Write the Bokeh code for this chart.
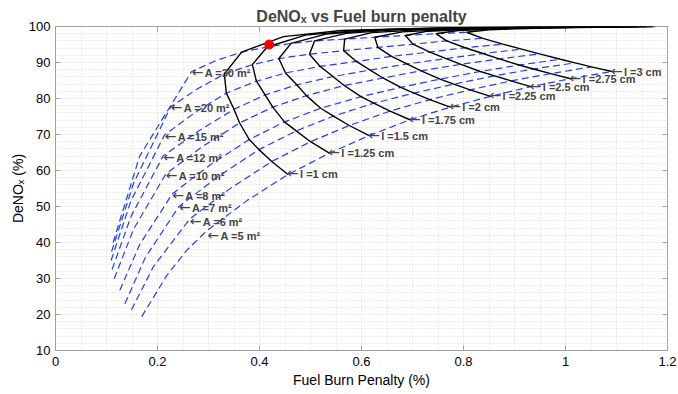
from bokeh.plotting import figure
from bokeh.models import Range1d, Label, FixedTicker
from bokeh.embed import file_html
from bokeh.resources import INLINE

FONT = "Liberation Sans"

x_ticks = [0, 0.2, 0.4, 0.6, 0.8, 1, 1.2]
y_ticks = [10, 20, 30, 40, 50, 60, 70, 80, 90, 100]

# catalyst area values (m2) and thickness values (cm)
A_vals = [5, 6, 7, 8, 10, 12, 15, 20, 30]
l_vals = [1, 1.25, 1.5, 1.75, 2, 2.25, 2.5, 2.75, 3]

# grid of (fuel burn penalty, DeNOx) at each thickness (rows) and area (columns)
grid_x = [
    [0.456, 0.424, 0.399, 0.380, 0.361, 0.350, 0.335, 0.331, 0.365],
    [0.537, 0.500, 0.472, 0.449, 0.426, 0.411, 0.394, 0.386, 0.415],
    [0.615, 0.576, 0.545, 0.520, 0.492, 0.473, 0.451, 0.438, 0.462],
    [0.695, 0.656, 0.624, 0.599, 0.566, 0.544, 0.519, 0.498, 0.508],
    [0.774, 0.734, 0.703, 0.677, 0.642, 0.617, 0.590, 0.565, 0.567],
    [0.853, 0.813, 0.781, 0.754, 0.717, 0.689, 0.659, 0.632, 0.626],
    [0.932, 0.893, 0.861, 0.833, 0.795, 0.766, 0.734, 0.701, 0.686],
    [1.010, 0.971, 0.937, 0.909, 0.870, 0.838, 0.803, 0.767, 0.746],
    [1.091, 1.051, 1.019, 0.990, 0.949, 0.914, 0.877, 0.838, 0.806],
]
grid_y = [
    [58.9, 62.5, 65.8, 68.6, 73.2, 77.0, 81.5, 86.8, 92.9],
    [64.8, 68.0, 71.0, 73.5, 77.6, 81.0, 84.8, 89.4, 94.3],
    [69.7, 72.5, 75.1, 77.3, 80.8, 83.8, 87.1, 91.1, 95.3],
    [74.1, 76.5, 78.7, 80.5, 83.6, 86.1, 88.9, 92.3, 96.0],
    [77.6, 79.7, 81.5, 83.1, 85.7, 87.9, 90.3, 93.3, 96.5],
    [80.6, 82.4, 84.0, 85.4, 87.7, 89.6, 91.7, 94.2, 97.0],
    [83.3, 84.9, 86.3, 87.5, 89.5, 91.1, 92.9, 95.1, 97.5],
    [85.5, 86.9, 88.2, 89.3, 91.0, 92.5, 94.1, 96.0, 98.0],
    [87.5, 88.8, 89.9, 90.9, 92.4, 93.7, 95.1, 96.7, 98.4],
]
# thickness curves beyond A = 30 m2 (towards very large areas)
ext_x = [
    [0.447, 0.56, 0.75, 0.95],
    [0.49, 0.60, 0.79, 1.00],
    [0.53, 0.64, 0.83, 1.04],
    [0.57, 0.68, 0.87, 1.08],
    [0.62, 0.73, 0.92, 1.11],
    [0.68, 0.79, 0.97, 1.14],
    [0.73, 0.84, 1.01, 1.16],
    [0.79, 0.90, 1.05, 1.17],
    [0.85, 0.96, 1.09, 1.175],
]
ext_y = [
    [97.2, 98.9, 99.6, 99.9],
    [97.6, 99.0, 99.65, 99.9],
    [97.9, 99.1, 99.7, 99.9],
    [98.1, 99.2, 99.7, 99.92],
    [98.3, 99.25, 99.75, 99.93],
    [98.5, 99.3, 99.78, 99.95],
    [98.7, 99.4, 99.8, 99.96],
    [98.9, 99.5, 99.85, 99.97],
    [99.1, 99.6, 99.88, 99.98],
]
# area curves below l = 1 cm (thin catalysts)
low_x = [
    [0.169, 0.218, 0.257, 0.297, 0.376],
    [0.149, 0.192, 0.263, 0.3435],
    [0.136, 0.176, 0.242, 0.3205],
    [0.126, 0.165, 0.229, 0.3045],
    [0.115, 0.153, 0.216, 0.2885],
    [0.111, 0.1485, 0.211, 0.2805],
    [0.109, 0.148, 0.214, 0.2745],
    [0.110, 0.1535, 0.226, 0.2785],
    [0.113, 0.165, 0.267, 0.316],
]
low_y = [
    [19.4, 30.8, 37.8, 43.3, 51.7],
    [21.3, 33.3, 46.5, 55.1],
    [23.0, 35.8, 50.0, 58.5],
    [26.7, 39.4, 53.5, 61.7],
    [29.9, 43.7, 59.0, 66.7],
    [32.5, 47.4, 64.0, 71.0],
    [35.0, 51.6, 69.9, 76.2],
    [37.5, 56.6, 77.7, 82.7],
    [40.0, 64.0, 87.5, 90.6],
]

l_label_text = ["l =1 cm", "l =1.25 cm", "l =1.5 cm", "l =1.75 cm", "l =2 cm",
                "l =2.25 cm", "l =2.5 cm", "l =2.75 cm", "l =3 cm"]
l_label_x = [0.456, 0.537, 0.615, 0.695, 0.774, 0.853, 0.932, 1.010, 1.091]
l_label_y = [58.9, 64.8, 69.7, 74.1, 77.6, 80.6, 83.3, 85.5, 87.5]

a_label_text = ["A =5 m²", "A =6 m²", "A =7 m²", "A =8 m²", "A =10 m²",
                "A =12 m²", "A =15 m²", "A =20 m²", "A =30 m²"]
a_label_x = [0.300, 0.265, 0.244, 0.231, 0.218, 0.213, 0.216, 0.228, 0.269]
a_label_y = [41.9, 45.8, 49.5, 52.9, 58.4, 63.5, 69.4, 77.3, 87.1]

best_x = [0.419]
best_y = [95.0]

p = figure(frame_width=612, frame_height=324,
           x_range=Range1d(0, 1.2), y_range=Range1d(10, 100),
           output_backend="svg", toolbar_location=None,
           min_border_left=55, min_border_right=10, min_border_top=26, min_border_bottom=42)
p.outline_line_color = "#a0a0a0"
p.background_fill_color = "white"
p.border_fill_color = "white"

p.title.text = "DeNO\u2093 vs Fuel burn penalty"
p.title.align = "center"
p.title.text_font = FONT
p.title.text_font_size = "16px"
p.title.text_font_style = "bold"
p.title.standoff = 4
p.title.offset = 0

for ax, ticks in ((p.xaxis[0], x_ticks), (p.yaxis[0], y_ticks)):
    ax.ticker = FixedTicker(ticks=ticks)
    ax.axis_line_color = "#a0a0a0"
    ax.major_tick_line_color = "#a0a0a0"
    ax.major_tick_in = 5
    ax.major_tick_out = 0
    ax.minor_tick_line_color = None
    ax.major_label_text_font = FONT
    ax.major_label_text_font_size = "13px"
    ax.major_label_text_color = "black"
    ax.axis_label_text_font = FONT
    ax.axis_label_text_font_size = "14px"
    ax.axis_label_text_font_style = "normal"
    ax.axis_label_text_color = "black"
p.xaxis[0].major_label_overrides = {0: "0", 1: "1"}
p.xaxis[0].major_label_standoff = 6
p.yaxis[0].major_label_standoff = 5
p.xaxis[0].axis_label = "Fuel Burn Penalty (%)"
p.xaxis[0].axis_label_standoff = 3
p.yaxis[0].axis_label = "DeNO\u2093 (%)"
p.yaxis[0].axis_label_standoff = 0

# inward tick marks on the right and top edges of the box
tick_dx = 0.0098
tick_dy = 1.39
p.segment(x0=[1.2] * len(y_ticks), y0=y_ticks, x1=[1.2 - tick_dx] * len(y_ticks), y1=y_ticks,
          line_color="#a0a0a0", line_width=1)
p.segment(x0=x_ticks, y0=[100] * len(x_ticks), x1=x_ticks, y1=[100 - tick_dy] * len(x_ticks),
          line_color="#a0a0a0", line_width=1)

p.xgrid.ticker = FixedTicker(ticks=[i * 0.05 for i in range(25)])
p.ygrid.ticker = FixedTicker(ticks=list(range(10, 101, 2)))
for g in (p.xgrid, p.ygrid):
    g.grid_line_color = "#d8d8d8"
    g.grid_line_dash = "1 2"

# constant-area curves (dashed blue)
for j in range(len(A_vals)):
    xs = low_x[j] + [grid_x[i][j] for i in range(len(l_vals))]
    ys = low_y[j] + [grid_y[i][j] for i in range(len(l_vals))]
    p.line(xs, ys, line_color="#1f3cff", line_width=1.2, line_dash="7 4")

# constant-thickness curves (solid black)
for i in range(len(l_vals)):
    xs = grid_x[i] + ext_x[i]
    ys = grid_y[i] + ext_y[i]
    p.line(xs, ys, line_color="black", line_width=1.4)

p.scatter(best_x, best_y, size=9, color="red")

for t, x, y in zip(l_label_text + a_label_text, l_label_x + a_label_x, l_label_y + a_label_y):
    p.add_layout(Label(x=x, y=y, text="\u2190", text_font="DejaVu Sans", text_font_size="14px",
                       text_baseline="middle", x_offset=-1, y_offset=1))
    p.add_layout(Label(x=x, y=y, text=t, text_font=FONT, text_font_size="11px",
                       text_font_style="bold", text_baseline="middle", x_offset=12))

open("out.html", "w").write(file_html(p, INLINE))
